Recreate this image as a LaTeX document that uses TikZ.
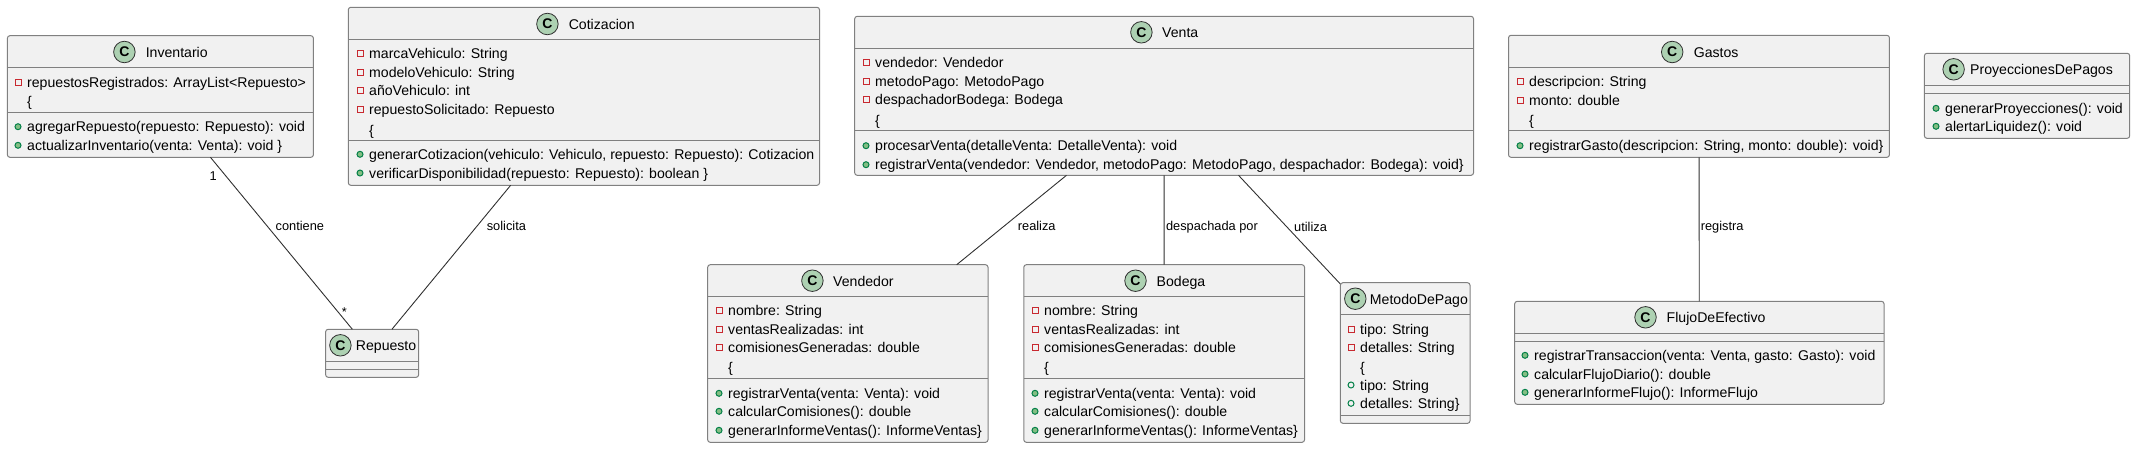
\documentclass[tikz,border=0pt]{standalone}
\usepackage{fontspec}
\setmainfont{Liberation Sans}
\definecolor{boxfill}{HTML}{F1F1F1}
\definecolor{boxline}{HTML}{808080}
\definecolor{iconfill}{HTML}{ADD1B2}
\definecolor{linkline}{HTML}{303030}
\definecolor{privred}{HTML}{C82930}
\definecolor{pubgreen}{HTML}{038048}
\definecolor{pubfill}{HTML}{84BE84}
\tikzset{
	classbox/.style={draw=boxline,fill=boxfill,line width=1pt,rounded corners=2.5pt,inner sep=0pt,outer sep=0pt},
	sepline/.style={draw=boxline,line width=1pt},
	icon/.style={circle,draw=linkline,fill=iconfill,line width=.8pt,minimum size=21.5pt,inner sep=0pt,font=\fontsize{14}{14}\selectfont\bfseries},
	title/.style={anchor=west,inner sep=0pt,text height=12pt,text depth=1pt,font=\fontsize{14.1}{15}\selectfont},
	member/.style={anchor=west,inner sep=0pt,text height=11pt,text depth=1pt,font=\fontsize{14.1}{15}\selectfont},
	privmark/.style={rectangle,draw=privred,line width=1pt,minimum size=6pt,inner sep=0pt,label distance=5.5pt},
	pubmark/.style={circle,draw=pubgreen,fill=pubfill,line width=1pt,minimum size=6pt,inner sep=0pt,label distance=5.5pt},
	fieldmark/.style={circle,draw=pubgreen,line width=1pt,minimum size=6pt,inner sep=0pt,label distance=5.5pt},
	priv/.style={member,label={[privmark]left:}},
	pub/.style={member,label={[pubmark]left:}},
	field/.style={member,label={[fieldmark]left:}},
	link/.style={draw=linkline,line width=.9pt},
	linklabel/.style={anchor=west,inner sep=0pt,text height=11pt,text depth=0pt,font=\fontsize{12.8}{13}\selectfont,text=black},
}
\begin{document}
\begin{tikzpicture}[x=1pt,y=-1pt]
	\useasboundingbox (0,0) rectangle (2135,448);
	\node (inv) [classbox,minimum width=306pt,minimum height=121.6pt] at (160.4,96.5) {};
	\draw [sepline] (inv.west |- 0,67.3) -- (inv.east |- 0,67.3);
	\draw [sepline] (inv.west |- 0,112.3) -- (inv.east |- 0,112.3);
	\node (invi) [icon] at (124.4,52) {C};
	\node (invt) [title] at (145.6,52) {Inventario};
	\node (inv1) [priv] at (27,82) {repuestosRegistrados: ArrayList<Repuesto>};
	\node (inv2) [member] at (27,101.7) {\{};
	\node (inv3) [pub] at (27,126.7) {agregarRepuesto(repuesto: Repuesto): void};
	\node (inv4) [pub] at (27,145.3) {actualizarInventario(venta: Venta): void \}};

	\node (cot) [classbox,minimum width=471.2pt,minimum height=178pt] at (583.9,96.3) {};
	\draw [sepline] (cot.west |- 0,39.3) -- (cot.east |- 0,39.3);
	\draw [sepline] (cot.west |- 0,140.3) -- (cot.east |- 0,140.3);
	\node (coti) [icon] at (547.4,24) {C};
	\node (cott) [title] at (568.6,24) {Cotizacion};
	\node (cot1) [priv] at (369,53.3) {marcaVehiculo: String};
	\node (cot2) [priv] at (369,72) {modeloVehiculo: String};
	\node (cot3) [priv] at (369,90.7) {añoVehiculo: int};
	\node (cot4) [priv] at (369,109.3) {repuestoSolicitado: Repuesto};
	\node (cot5) [member] at (369,130) {\{};
	\node (cot6) [pub] at (369,154.3) {generarCotizacion(vehiculo: Vehiculo, repuesto: Repuesto): Cotizacion};
	\node (cot7) [pub] at (369,173) {verificarDisponibilidad(repuesto: Repuesto): boolean \}};

	\node (rep) [classbox,minimum width=93pt,minimum height=48pt] at (372.15,353.3) {};
	\draw [sepline] (rep.west |- 0,361.3) -- (rep.east |- 0,361.3);
	\draw [sepline] (rep.west |- 0,369.3) -- (rep.east |- 0,369.3);
	\node (repi) [icon] at (340.4,345.3) {C};
	\node (rept) [title] at (355.7,345.3) {Repuesto};

	\node (vta) [classbox,minimum width=618.8pt,minimum height=159pt] at (1164.1,95.8) {};
	\draw [sepline] (vta.west |- 0,48.3) -- (vta.east |- 0,48.3);
	\draw [sepline] (vta.west |- 0,130.3) -- (vta.east |- 0,130.3);
	\node (vtai) [icon] at (1141.4,32.3) {C};
	\node (vtat) [title] at (1162,32.3) {Venta};
	\node (vta1) [priv] at (875,62.3) {vendedor: Vendedor};
	\node (vta2) [priv] at (875,81) {metodoPago: MetodoPago};
	\node (vta3) [priv] at (875,99.7) {despachadorBodega: Bodega};
	\node (vta4) [member] at (875,120) {\{};
	\node (vta5) [pub] at (875,145.7) {procesarVenta(detalleVenta: DetalleVenta): void};
	\node (vta6) [pub] at (875,164.7) {registrarVenta(vendedor: Vendedor, metodoPago: MetodoPago, despachador: Bodega): void\}};

	\node (vdr) [classbox,minimum width=280.3pt,minimum height=177.6pt] at (847.85,353.5) {};
	\draw [sepline] (vdr.west |- 0,296.3) -- (vdr.east |- 0,296.3);
	\draw [sepline] (vdr.west |- 0,378.7) -- (vdr.east |- 0,378.7);
	\node (vdri) [icon] at (812.4,280.7) {C};
	\node (vdrt) [title] at (833,280.7) {Vendedor};
	\node (vdr1) [priv] at (728,310.7) {nombre: String};
	\node (vdr2) [priv] at (728,329.3) {ventasRealizadas: int};
	\node (vdr3) [priv] at (728,347.3) {comisionesGeneradas: double};
	\node (vdr4) [member] at (728,367.3) {\{};
	\node (vdr5) [pub] at (728,393.3) {registrarVenta(venta: Venta): void};
	\node (vdr6) [pub] at (728,411.3) {calcularComisiones(): double};
	\node (vdr7) [pub] at (728,430.3) {generarInformeVentas(): InformeVentas\}};

	\node (bod) [classbox,minimum width=280.7pt,minimum height=177.6pt] at (1164.15,353.5) {};
	\draw [sepline] (bod.west |- 0,296.3) -- (bod.east |- 0,296.3);
	\draw [sepline] (bod.west |- 0,378.7) -- (bod.east |- 0,378.7);
	\node (bodi) [icon] at (1135.5,280.7) {C};
	\node (bodt) [title] at (1156.5,280.7) {Bodega};
	\node (bod1) [priv] at (1044,310.7) {nombre: String};
	\node (bod2) [priv] at (1044,329.3) {ventasRealizadas: int};
	\node (bod3) [priv] at (1044,347.3) {comisionesGeneradas: double};
	\node (bod4) [member] at (1044,367.3) {\{};
	\node (bod5) [pub] at (1044,393.3) {registrarVenta(venta: Venta): void};
	\node (bod6) [pub] at (1044,411.3) {calcularComisiones(): double};
	\node (bod7) [pub] at (1044,430.3) {generarInformeVentas(): InformeVentas\}};

	\node (met) [classbox,minimum width=129.6pt,minimum height=140.6pt] at (1405.2,353) {};
	\draw [sepline] (met.west |- 0,314.3) -- (met.east |- 0,314.3);
	\draw [sepline] (met.west |- 0,415.7) -- (met.east |- 0,415.7);
	\node (meti) [icon] at (1355.3,298.7) {C};
	\node (mett) [title] at (1369.7,298.7) {MetodoDePago};
	\node (met1) [priv] at (1360,329.3) {tipo: String};
	\node (met2) [priv] at (1360,347.3) {detalles: String};
	\node (met3) [member] at (1360,367) {\{};
	\node (met4) [field] at (1360,385) {tipo: String};
	\node (met5) [field] at (1360,403.3) {detalles: String\}};

	\node (gas) [classbox,minimum width=380.9pt,minimum height=122pt] at (1698.95,96.3) {};
	\draw [sepline] (gas.west |- 0,67.3) -- (gas.east |- 0,67.3);
	\draw [sepline] (gas.west |- 0,130.3) -- (gas.east |- 0,130.3);
	\node (gasi) [icon] at (1672.2,52) {C};
	\node (gast) [title] at (1693.6,52) {Gastos};
	\node (gas1) [priv] at (1529,81.7) {descripcion: String};
	\node (gas2) [priv] at (1529,100.7) {monto: double};
	\node (gas3) [member] at (1529,120) {\{};
	\node (gas4) [pub] at (1529,145.7) {registrarGasto(descripcion: String, monto: double): void\}};

	\node (pro) [classbox,minimum width=205.3pt,minimum height=85pt] at (2027.05,95.8) {};
	\draw [sepline] (pro.west |- 0,85.3) -- (pro.east |- 0,85.3);
	\draw [sepline] (pro.west |- 0,93.3) -- (pro.east |- 0,93.3);
	\node (proi) [icon] at (1953.6,69.3) {C};
	\node (prot) [title] at (1970,69.3) {ProyeccionesDePagos};
	\node (pro1) [pub] at (1945,108.3) {generarProyecciones(): void};
	\node (pro2) [pub] at (1945,126.3) {alertarLiquidez(): void};

	\node (flu) [classbox,minimum width=369.3pt,minimum height=103pt] at (1699.35,352.8) {};
	\draw [sepline] (flu.west |- 0,333.3) -- (flu.east |- 0,333.3);
	\draw [sepline] (flu.west |- 0,341.3) -- (flu.east |- 0,341.3);
	\node (flui) [icon] at (1645.5,317.3) {C};
	\node (flut) [title] at (1666.5,317.3) {FlujoDeEfectivo};
	\node (flu1) [pub] at (1534,355.3) {registrarTransaccion(venta: Venta, gasto: Gasto): void};
	\node (flu2) [pub] at (1534,374) {calcularFlujoDiario(): double};
	\node (flu3) [pub] at (1534,392.3) {generarInformeFlujo(): InformeFlujo};

	\draw [link] (inv) -- (rep)
		node [linklabel,pos=.395,xshift=8.7pt] (lcon) {contiene}
		node [linklabel,pos=.104,anchor=center,xshift=-12pt] (lone) {1}
		node [linklabel,pos=.895,anchor=center,xshift=7pt] (lman) {*};
	\draw [link] (cot) -- (rep) node [linklabel,pos=.276,xshift=8.5pt] (lsol) {solicita};
	\draw [link] (vta) -- (vdr) node [linklabel,pos=.556,xshift=12pt] (lrea) {realiza};
	\draw [link] (vta) -- (bod) node [linklabel,pos=.556,xshift=1.5pt] (ldes) {despachada por};
	\draw [link] (vta) -- (met) node [linklabel,pos=.463,xshift=8pt] (luti) {utiliza};
	\draw [link] (gas) -- (flu) node [linklabel,pos=.47,xshift=1.2pt] (lreg) {registra};
\end{tikzpicture}
\end{document}
